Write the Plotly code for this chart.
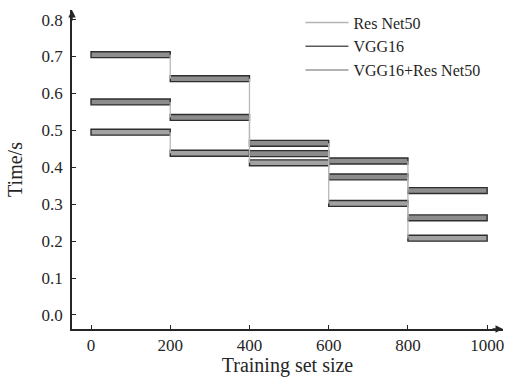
import plotly.graph_objects as go

# Training set size boundaries (each bar spans one interval)
sizes = [0, 200, 400, 600, 800, 1000]

# Time per sample (s) for each interval
series_names = ["Res Net50", "VGG16", "VGG16+Res Net50"]
resnet50 = [0.495, 0.438, 0.412, 0.302, 0.208]
vgg16 = [0.577, 0.535, 0.437, 0.374, 0.263]
combined = [0.705, 0.640, 0.465, 0.417, 0.337]

x_ticks = [0, 200, 400, 600, 800, 1000]
y_ticks = [0.0, 0.1, 0.2, 0.3, 0.4, 0.5, 0.6, 0.7, 0.8]

legend_colors = ["#b4b4b4", "#5a5a5a", "#9a9a9a"]
bar_fills = ["#a2a2a2", "#8c8c8c", "#8e8e8e"]
FONT = "Liberation Serif, Times New Roman, serif"
INK = "#262626"

fig = go.Figure()

all_series = [resnet50, vgg16, combined]

# vertical step connectors between consecutive intervals
for vals in all_series:
    xs, ys = [], []
    for i in range(1, len(vals)):
        xs += [sizes[i], sizes[i], None]
        ys += [vals[i - 1], vals[i], None]
    fig.add_trace(go.Scatter(x=xs, y=ys, mode="lines",
                             line=dict(color="#b8b8b8", width=1.3),
                             showlegend=False, hoverinfo="skip"))

# horizontal bars for each interval
for vals, fill in zip(all_series, bar_fills):
    starts = sizes[:-1]
    widths = [sizes[i + 1] - sizes[i] for i in range(len(vals))]
    fig.add_trace(go.Bar(orientation="h", y=vals, x=widths, base=starts,
                         width=0.016, marker=dict(color=fill,
                         line=dict(color="#2e2e2e", width=1.4)),
                         showlegend=False, hoverinfo="skip"))

# legend entries
for name, col in zip(series_names, legend_colors):
    fig.add_trace(go.Scatter(x=[None], y=[None], mode="lines", name=name,
                             line=dict(color=col, width=1.5)))

fig.update_layout(
    width=505, height=377,
    margin=dict(l=72, r=2, t=10, b=48),
    paper_bgcolor="white", plot_bgcolor="white",
    font=dict(family=FONT, size=17, color=INK),
    barmode="overlay",
    showlegend=True,
    legend=dict(x=0.530, y=1.014, xanchor="left", yanchor="top",
                bgcolor="rgba(0,0,0,0)", font=dict(size=16),
                itemwidth=43, tracegroupgap=0),
)

fig.update_xaxes(range=[-48, 1040], tickvals=x_ticks,
                 ticktext=[str(v) for v in x_ticks],
                 showline=True, linecolor=INK, linewidth=1.5,
                 ticks="inside", ticklen=4, tickcolor=INK, tickwidth=1.3,
                 showgrid=False, zeroline=False,
                 title=dict(text="Training set size", standoff=4))
fig.update_yaxes(range=[-0.038, 0.826], tickvals=y_ticks,
                 ticktext=[f"{v:.1f}" for v in y_ticks],
                 showline=True, linecolor=INK, linewidth=1.5,
                 ticks="inside", ticklen=4, tickcolor=INK, tickwidth=1.3,
                 ticklabelstandoff=4,
                 showgrid=False, zeroline=False,
                 title=dict(text="Time/s", standoff=14))

# arrowheads at the ends of both axes
fig.add_annotation(xref="paper", yref="paper", x=0, y=1.0, ax=0, ay=12,
                   text="", showarrow=True, arrowhead=2, arrowsize=1,
                   arrowwidth=1.5, arrowcolor=INK)
fig.add_annotation(xref="paper", yref="paper", x=1.0, y=0, ax=-12, ay=0,
                   text="", showarrow=True, arrowhead=2, arrowsize=1,
                   arrowwidth=1.5, arrowcolor=INK)

fig.write_html("out.html")
